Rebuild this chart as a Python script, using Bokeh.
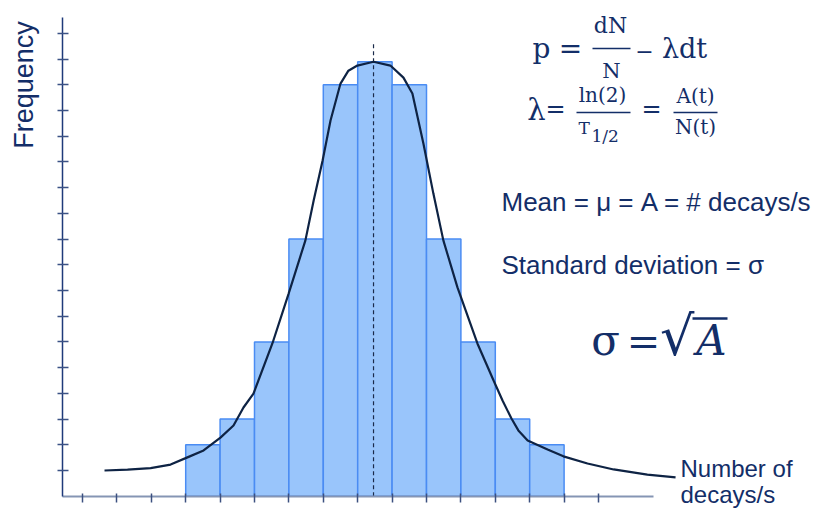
import numpy as np
from bokeh.plotting import figure
from bokeh.models import LinearAxis, FixedTicker, Range1d
from bokeh.core.properties import value
from bokeh.embed import file_html
from bokeh.resources import INLINE

# ---------------- data ----------------
bin_left = [3, 4, 5, 6, 7, 8, 9, 10, 11, 12, 13]
counts = [2, 3, 6, 10, 16, 16.9, 16, 10, 6, 3, 2]
x_ticks = list(range(0, 16))
y_ticks = list(range(1, 19))
curve_x = [0.64, 1.31, 1.98, 2.56, 3.05, 3.52, 4.01, 4.39, 4.68, 4.97, 5.52, 5.99,
           6.48, 6.72, 6.98, 7.21, 7.50, 7.73, 7.99, 8.37, 8.46, 8.95, 9.33, 9.59,
           9.91, 10.20, 10.49, 10.90, 11.48, 11.95, 12.21, 12.47, 12.67, 12.94,
           13.52, 13.98, 14.68, 15.44, 16.42, 17.24]
curve_y = [1.00, 1.03, 1.09, 1.23, 1.51, 1.78, 2.28, 2.75, 3.45, 3.99, 5.94, 7.87,
           9.95, 11.50, 13.06, 14.61, 16.05, 16.55, 16.75, 16.87, 16.90, 16.75, 16.28,
           15.66, 13.72, 11.77, 9.95, 8.12, 5.94, 4.50, 3.72, 3.02, 2.56, 2.17,
           1.82, 1.55, 1.27, 1.04, 0.84, 0.73]
mean_x = 8.46
mean_top = 17.6

# ---------------- layout helpers (page px -> data) ----------------
X0, XS = 82.0, 34.4
Y0, YS = 495.7, 25.71


def X(px):
    return (px - X0) / XS


def Y(py):
    return (Y0 - py) / YS


NAVY = "#132E68"
W, H = 814, 508

p = figure(width=W, height=H, output_backend="svg", toolbar_location=None,
           x_range=Range1d(X(0), X(W)), y_range=Range1d(Y(H), Y(0)),
           x_axis_location=None, y_axis_location=None, min_border=0,
           outline_line_color=None, background_fill_color="white",
           border_fill_color="white")
p.grid.grid_line_color = None

# bars
p.quad(left=bin_left, right=[b + 1 for b in bin_left], bottom=0, top=counts,
       fill_color="#99C5FB", line_color="#4A8CF3", line_width=1.5)

# mean line
p.segment(x0=[mean_x], y0=[0], x1=[mean_x], y1=[mean_top],
          line_color="#1A2A4A", line_width=1.2, line_dash="4 3")

# fitted curve
p.line(curve_x, curve_y, line_color="#0E2344", line_width=2.2)

# axes (tick marks only, no labels)
xa = LinearAxis(fixed_location=0, bounds=(X(62), X(653)),
                ticker=FixedTicker(ticks=[], minor_ticks=x_ticks),
                axis_line_color="#8595B4", axis_line_width=2,
                major_tick_line_color=None,
                minor_tick_line_color="#3C5080", minor_tick_line_width=1.5,
                minor_tick_in=3, minor_tick_out=6)
p.add_layout(xa, "below")
ya = LinearAxis(fixed_location=X(62), bounds=(0, Y(17)),
                ticker=FixedTicker(ticks=[], minor_ticks=y_ticks),
                axis_line_color="#1F3A7A", axis_line_width=1.5,
                major_tick_line_color=None,
                minor_tick_line_color="#3B5285", minor_tick_line_width=1.5,
                minor_tick_in=6, minor_tick_out=5)
p.add_layout(ya, "left")

DROP = 0.36  # empirical baseline correction (em)


def txt(px, py, s, size, font="Liberation Sans", align="left",
        angle=0.0, style="normal"):
    if angle:
        px = px - DROP * size
    else:
        py = py - DROP * size
    p.text(x=[X(px)], y=[Y(py)], text=[s], angle=angle,
           text_font=value(font), text_font_size=f"{size}px",
           text_font_style=style, text_color=NAVY,
           text_align=align, text_baseline="alphabetic")


SERIF = "DejaVu Serif"
# axis titles
txt(33, 84.5, "Frequency", 27, align="center", angle=np.pi / 2)
txt(680, 477, "Number of", 24)
txt(680, 503, "decays/s", 24)

# explanatory text
txt(501, 211, "Mean = μ = A = # decays/s", 26)
txt(501, 274, "Standard deviation = σ", 26)

# sigma = sqrt(A)
txt(605, 355, "σ", 42, font=SERIF, align="center")
txt(643, 355, "=", 40, font=SERIF, align="center")
txt(694, 355, "√", 54, font=SERIF, align="right")
txt(711, 355, "A", 42, font=SERIF, align="center", style="italic")

# formula line 1
txt(541, 58, "p", 28, font=SERIF, align="center")
txt(570, 58, "=", 28, font=SERIF, align="center")
txt(610, 33, "dN", 22, font=SERIF, align="center")
txt(611, 78, "N", 21, font=SERIF, align="center")
txt(644, 58, "−", 22, font=SERIF, align="center")
txt(684, 58, "λdt", 27, font=SERIF, align="center")

# formula line 2
txt(536, 120, "λ", 29, font=SERIF, align="center")
txt(555, 117, "=", 24, font=SERIF, align="center")
txt(602, 102, "ln(2)", 20, font=SERIF, align="center")
txt(578, 134, "T", 17, font=SERIF)
txt(591, 142, "1/2", 17, font=SERIF)
txt(651, 117, "=", 24, font=SERIF, align="center")
txt(695, 103, "A(t)", 20, font=SERIF, align="center")
txt(695, 134, "N(t)", 20, font=SERIF, align="center")

# fraction bars and radical overline
p.segment(x0=[X(592), X(576), X(673), X(692)],
          y0=[Y(48), Y(112), Y(112), Y(318)],
          x1=[X(630), X(630), X(717), X(727)],
          y1=[Y(48), Y(112), Y(112), Y(318)],
          line_color=NAVY, line_width=[1.5, 1.5, 1.5, 2.5])

open("out.html", "w").write(file_html(p, INLINE))
